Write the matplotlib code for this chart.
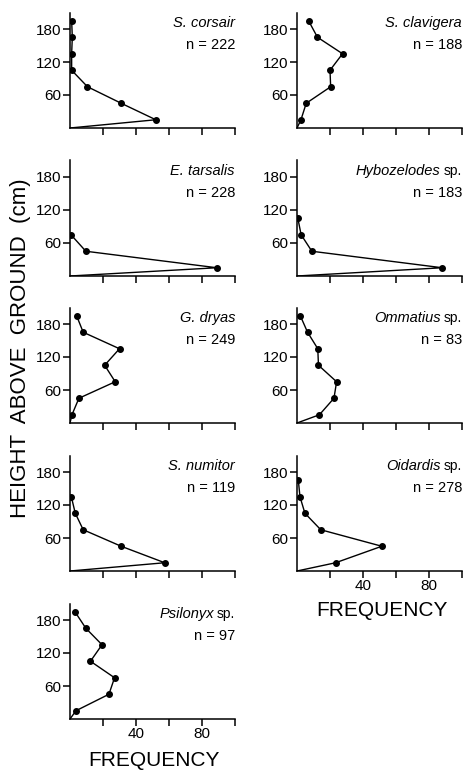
import numpy as np
import matplotlib.pyplot as plt
from matplotlib.transforms import offset_copy

plt.rcParams['font.family'] = ['Liberation Sans', 'DejaVu Sans']

# heights (cm) are midpoints of 30 cm classes; frequencies in percent
heights = [15, 45, 75, 105, 135, 165, 195]

species = ['S. corsair', 'S. clavigera', 'E. tarsalis', 'Hybozelodes', 'G. dryas',
           'Ommatius', 'S. numitor', 'Oidardis', 'Psilonyx']
has_sp = [False, False, False, True, False, True, False, True, True]
n_values = [222, 188, 228, 183, 249, 83, 119, 278, 97]

corsair = [52, 31, 10.6, 1, 1, 1.4, 1]
clavigera = [2.4, 5.6, 20.4, 20, 27.6, 12.4, 7]
tarsalis = [89, 9.6, 0.6]
hybozelodes = [88, 9, 2.5, 0.5]
dryas = [1.2, 5.4, 27.4, 21, 30, 8, 4]
ommatius = [13.6, 22.4, 24, 13, 12.6, 6.4, 2]
numitor = [57.4, 31, 8, 3.2, 0.8]
oidardis = [23.4, 51.4, 14.4, 4.8, 1.8, 0.8]
psilonyx = [3.6, 23.6, 27, 12.4, 19.4, 9.6, 3]

freqs = [corsair, clavigera, tarsalis, hybozelodes, dryas,
         ommatius, numitor, oidardis, psilonyx]

fig = plt.figure(figsize=(4.65, 7.74), dpi=100)
renderer = fig.canvas.get_renderer()

W, H = 465.0, 774.0
col_x = [70, 297]
row_bottom = [128, 276, 423, 571, 719]
ax_w = 165
ax_h = 115.5

for i, (name, f) in enumerate(zip(species, freqs)):
    r, c = divmod(i, 2)
    ax = fig.add_axes([col_x[c] / W, 1 - row_bottom[r] / H, ax_w / W, ax_h / H])
    h = heights[:len(f)]
    ax.plot([0] + list(f), [0] + h, color='black', lw=1.0)
    ax.plot(f, h, 'o', color='black', ms=4)
    ax.set_xlim(0, 100)
    ax.set_ylim(0, 210)
    ax.spines['top'].set_visible(False)
    ax.spines['right'].set_visible(False)
    for s in ['left', 'bottom']:
        ax.spines[s].set_linewidth(1.1)
    ax.set_yticks([60, 120, 180])
    ax.set_xticks([20, 40, 60, 80, 100])
    bottom_panel = (r == 4) or (r == 3 and c == 1)
    if bottom_panel:
        ax.set_xticklabels(['', '40', '', '80', ''])
    else:
        ax.set_xticklabels([])
    ax.tick_params(axis='both', direction='out', length=5, width=1.1,
                   labelsize=11, pad=1)
    if has_sp[i]:
        sp = ax.text(1.0, 0.905, 'sp.', fontsize=10, ha='right', va='center',
                     transform=ax.transAxes)
        wpx = sp.get_window_extent(renderer).width + 3
        tr = offset_copy(ax.transAxes, fig=fig, x=-wpx, y=0, units='dots')
        ax.text(1.0, 0.905, name, style='italic', fontsize=10.5,
                ha='right', va='center', transform=tr)
    else:
        ax.text(1.0, 0.905, name, style='italic', fontsize=10.5,
                ha='right', va='center', transform=ax.transAxes)
    ax.text(1.0, 0.72, 'n = %d' % n_values[i], fontsize=10.5,
            ha='right', va='center', transform=ax.transAxes)

fig.text(21 / W, 1 - 348 / H, 'HEIGHT  ABOVE  GROUND  (cm)', rotation=90,
         ha='center', va='center', fontsize=16)
fig.text(154 / W, 1 - 760 / H, 'FREQUENCY', ha='center', va='center', fontsize=15)
fig.text(382 / W, 1 - 610 / H, 'FREQUENCY', ha='center', va='center', fontsize=15)

fig.savefig('out.png', dpi=100)
